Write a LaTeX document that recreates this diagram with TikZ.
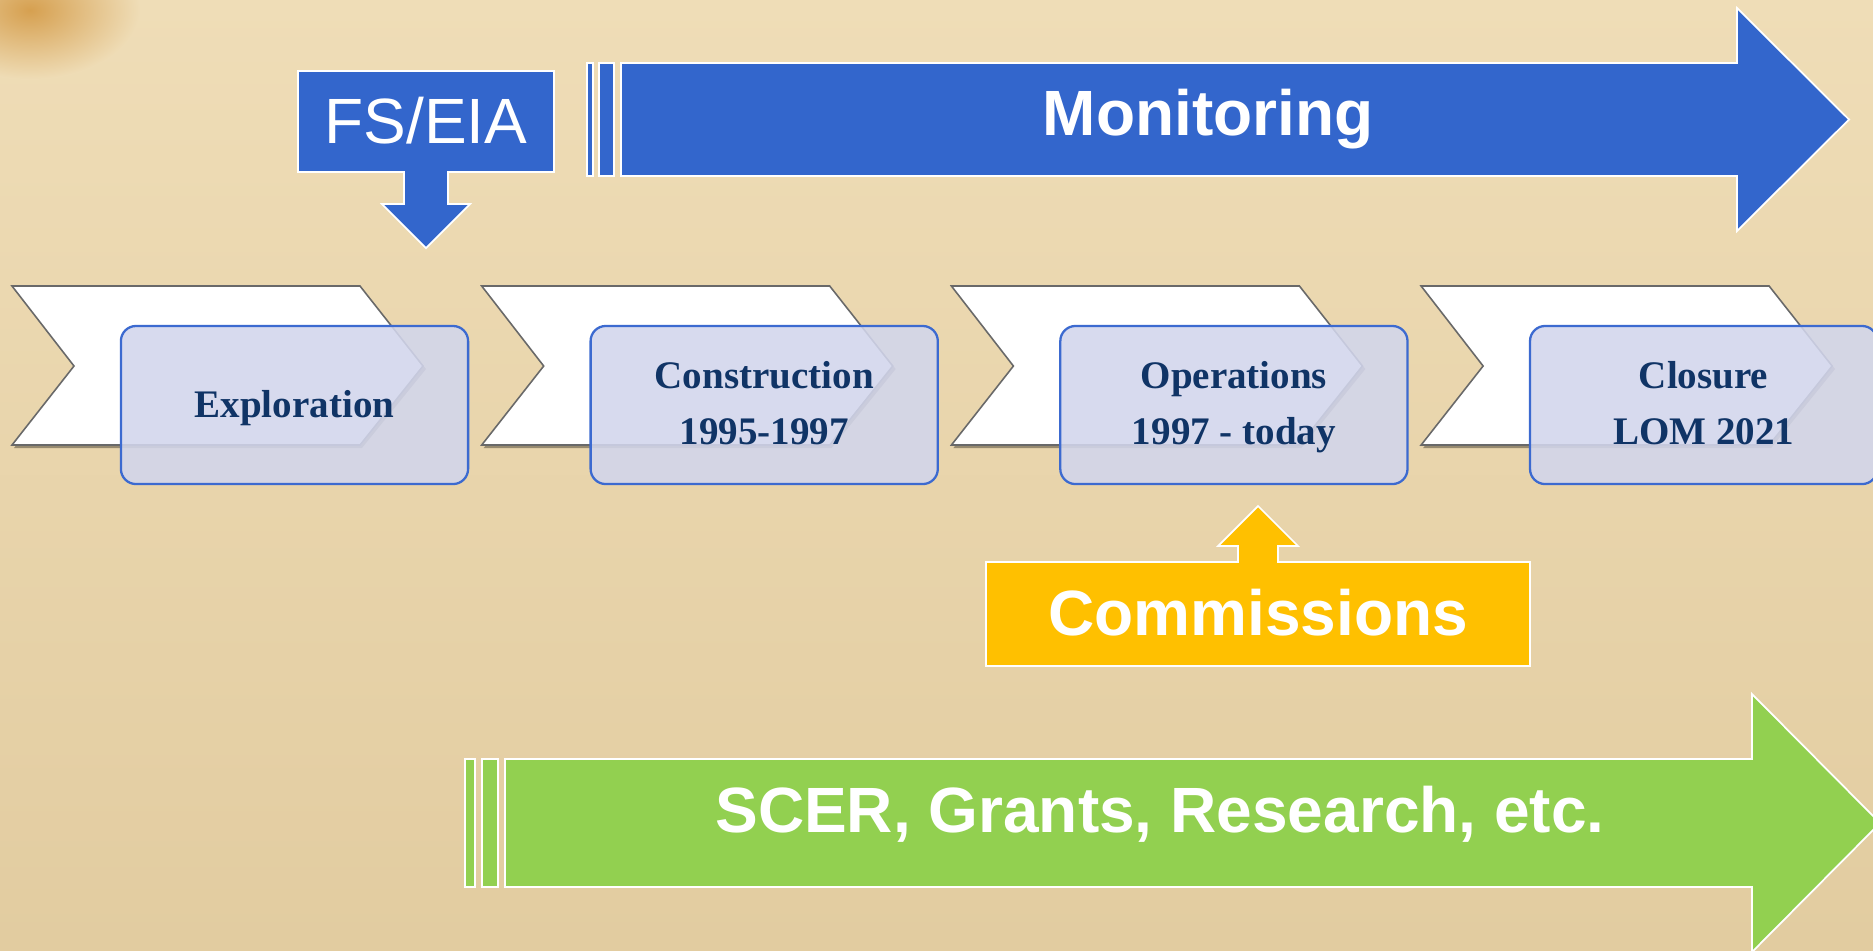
\documentclass[tikz,border=0pt]{standalone}
\usepackage{fontspec}
\newfontfamily\arialf{Liberation Sans}
\newfontfamily\timesf{Liberation Serif}
\definecolor{mblue}{RGB}{51,102,204}
\definecolor{myellow}{RGB}{255,192,0}
\definecolor{mgreen}{RGB}{146,208,80}
\definecolor{navy}{RGB}{16,52,102}
\definecolor{boxfill}{RGB}{210,214,236}
\definecolor{boxline}{RGB}{60,106,208}
\definecolor{bgtop}{RGB}{239,221,183}
\definecolor{bgbot}{RGB}{226,204,160}
\definecolor{blob}{RGB}{214,160,80}
\definecolor{chevline}{RGB}{105,105,105}
\begin{document}
\begin{tikzpicture}[x=0.01cm,y=-0.01cm,
  bigtxt/.style={font=\arialf\fontsize{18.2pt}{21pt}\selectfont, text=white, inner sep=0pt, anchor=base},
  bigbold/.style={bigtxt, font=\arialf\bfseries\fontsize{18.2pt}{21pt}\selectfont},
  boxtxt/.style={font=\timesf\bfseries\fontsize{11.1pt}{13pt}\selectfont, text=navy, inner sep=0pt, anchor=base},
  bandshape/.style={draw=white, line width=0.5pt, line join=miter},
  chevshape/.style={fill=white, draw=chevline, line width=0.45pt},
  chevshadow/.style={fill=black, opacity=0.35},
  stagebox/.style={rectangle, rounded corners=4.3pt, draw=boxline, line width=0.65pt,
     fill=boxfill, fill opacity=0.88, minimum width=3.47cm, minimum height=1.58cm, inner sep=0pt}
]
\useasboundingbox (0,0) rectangle (1873,950);
\clip (0,0) rectangle (1873,950);
% background
\shade[top color=bgtop, bottom color=bgbot] (0,0) rectangle (1873,950);
\shade[inner color=blob, outer color=bgtop] (30,10) ellipse (110 and 70);

% Monitoring band
\fill[mblue, bandshape] (587,63) rectangle (593,176);
\fill[mblue, bandshape] (599,63) rectangle (614,176);
\fill[mblue, bandshape] (621,63) -- (1737,63) -- (1737,8) -- (1849,119.5) -- (1737,231) -- (1737,176) -- (621,176) -- cycle;
\node[bigbold] (mon) at (1208,135) {Monitoring};

% FS/EIA callout
\fill[mblue, bandshape] (298,71) -- (554,71) -- (554,172) -- (448,172) -- (448,204) -- (470,204) -- (426,248) -- (382,204) -- (404,204) -- (404,172) -- (298,172) -- cycle;
\node[bigtxt] (fseia) at (426,143) {FS/EIA};

% chevrons and boxes
\foreach \i in {0,1,2,3}{
  \pgfmathsetmacro{\L}{12+469.7*\i}
  \fill[chevshadow] (\L+2,289) -- (\L+350,289) -- (\L+414,369) -- (\L+350,448) -- (\L+2,448) -- (\L+65,369) -- cycle;
  \filldraw[chevshape] (\L,286) -- (\L+348,286) -- (\L+411,366) -- (\L+348,445) -- (\L,445) -- (\L+62,366) -- cycle;
}
\node[stagebox] (box1) at (294.5,405) {};
\node[stagebox] (box2) at (764.2,405) {};
\node[stagebox] (box3) at (1233.9,405) {};
\node[stagebox] (box4) at (1703.6,405) {};

\node[boxtxt] (t1) at (294.5,417) {Exploration};
\node[boxtxt] (t2a) at (764.2,388) {Construction};
\node[boxtxt] (t2b) at (764.2,444) {1995-1997};
\node[boxtxt] (t3a) at (1233.9,388) {Operations};
\node[boxtxt] (t3b) at (1233.9,444) {1997 - today};
\node[boxtxt] (t4a) at (1703.6,388) {Closure};
\node[boxtxt] (t4b) at (1703.6,444) {LOM 2021};

% Commissions callout
\fill[myellow, bandshape] (986,562) -- (1238,562) -- (1238,546) -- (1218,546) -- (1258,506) -- (1298,546) -- (1278,546) -- (1278,562) -- (1530,562) -- (1530,666) -- (986,666) -- cycle;
\node[bigbold] (comm) at (1258,635) {Commissions};

% SCER band
\fill[mgreen, bandshape] (465,759) rectangle (475,887);
\fill[mgreen, bandshape] (482,759) rectangle (498,887);
\fill[mgreen, bandshape] (505,759) -- (1752,759) -- (1752,694) -- (1880,823) -- (1752,952) -- (1752,887) -- (505,887) -- cycle;
\node[bigbold] (scer) at (1160,832) {SCER, Grants, Research, etc.};
\end{tikzpicture}
\end{document}
